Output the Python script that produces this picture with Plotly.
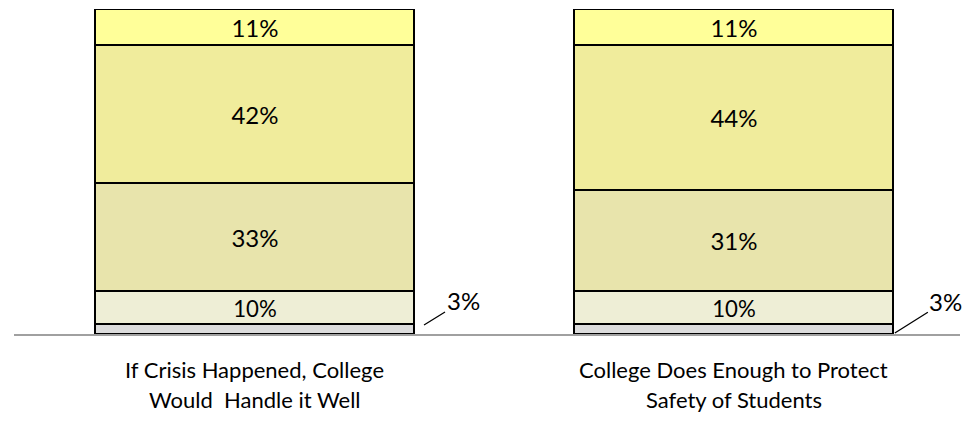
import plotly.graph_objects as go

cat_line1 = ["If Crisis Happened, College", "College Does Enough to Protect"]
cat_line2 = ["Would  Handle it Well", "Safety of Students"]
segment_names = ["s1", "s2", "s3", "s4", "s5"]
values = [
    [3, 3],
    [10, 10],
    [33, 31],
    [42, 44],
    [11, 11],
]
colors = ["#DCDCDC", "#EEEED6", "#E8E4AC", "#F0EC9C", "#FFFF99"]

FONT = "Lato"
x = [0, 1]
fig = go.Figure()
for i, (name, vals, col) in enumerate(zip(segment_names, values, colors)):
    fig.add_trace(go.Bar(
        x=x, y=vals, name=name, width=0.666,
        marker=dict(color=col, line=dict(color="black", width=2)),
        text=[("" if i == 0 else f"{v}%") for v in vals],
        textposition="inside", insidetextanchor="middle", textangle=0,
        textfont=dict(family=FONT, size=24, color="black"),
        hoverinfo="skip",
    ))

# 3% labels with leader lines
for xi, (px, py, ax, ay) in zip(x, [(0.353, 2.75, 39, -24), (1.336, 0.3, 51, -32)]):
    fig.add_annotation(x=px, y=py, xref="x", yref="y",
                       text=f"{values[0][xi]}%", showarrow=True, arrowhead=0,
                       arrowwidth=1.3, arrowcolor="black", ax=ax, ay=ay,
                       font=dict(family=FONT, size=24, color="black"))

# category labels
for xi in x:
    fig.add_annotation(x=xi, y=-0.11, xref="x", yref="paper", text=cat_line1[xi],
                       showarrow=False, yanchor="middle",
                       font=dict(family=FONT, size=22, color="black"))
    fig.add_annotation(x=xi, y=-0.203, xref="x", yref="paper", text=cat_line2[xi],
                       showarrow=False, yanchor="middle",
                       font=dict(family=FONT, size=22, color="black"))

fig.update_layout(
    barmode="stack", showlegend=False,
    width=976, height=423,
    margin=dict(l=14, r=16, t=9, b=89),
    paper_bgcolor="white", plot_bgcolor="white",
    xaxis=dict(range=[-0.503, 1.472], showticklabels=False, showgrid=False,
               zeroline=False, showline=True, linecolor="#A0A0A0", linewidth=2,
               ticks=""),
    yaxis=dict(range=[0, 99], visible=False),
)
fig.write_html("out.html", config={"displayModeBar": False, "staticPlot": True},
               post_script="document.body.style.margin='0';document.body.style.overflow='hidden';")
